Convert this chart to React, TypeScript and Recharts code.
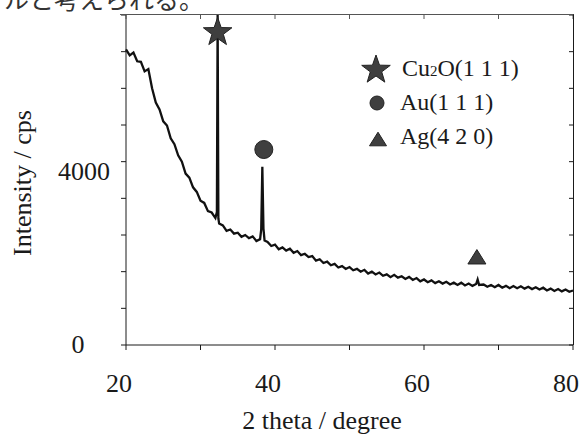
import { ComposedChart, Line, Scatter, XAxis, YAxis } from "recharts"

const theta = [
  20, 20.5, 21, 21.5, 22, 22.5, 23, 23.5, 24, 24.5, 25, 25.5, 26, 26.5, 27, 27.5, 28, 28.5, 29, 29.5,
  30, 30.5, 31, 31.5, 32, 32.2, 32.3, 32.4, 32.5, 33, 33.5, 34, 34.5, 35, 35.5, 36, 36.5, 37, 37.5,
  38, 38.15, 38.3, 38.45, 38.6, 39, 39.5, 40, 40.5, 41, 41.5, 42, 42.5, 43, 43.5, 44, 44.5, 45, 45.5,
  46, 46.5, 47, 47.5, 48, 48.5, 49, 49.5, 50, 50.5, 51, 51.5, 52, 52.5, 53, 53.5, 54, 54.5, 55, 55.5,
  56, 56.5, 57, 57.5, 58, 58.5, 59, 59.5, 60, 60.5, 61, 61.5, 62, 62.5, 63, 63.5, 64, 64.5, 65, 65.5,
  66, 66.5, 67, 67.2, 67.4, 68, 68.5, 69, 69.5, 70, 70.5, 71, 71.5, 72, 72.5, 73, 73.5, 74, 74.5, 75,
  75.5, 76, 76.5, 77, 77.5, 78, 78.5, 79, 79.5, 80,
]
const intensity = [
  6450, 6320, 6380, 6190, 6180, 5970, 6020, 5600, 5290, 5140, 4880, 4790, 4510, 4380, 4140, 4000, 3740, 3650, 3440, 3340,
  3150, 3100, 2920, 2890, 2770, 2900, 7200, 2760, 2650, 2610, 2490, 2520, 2430, 2450, 2360, 2400, 2330, 2370, 2270,
  2310, 2520, 3890, 2540, 2280, 2250, 2160, 2190, 2090, 2130, 2060, 2100, 2010, 2050, 1960, 1990, 1920, 1940, 1840,
  1870, 1790, 1820, 1740, 1770, 1690, 1720, 1660, 1700, 1630, 1660, 1600, 1640, 1560, 1600, 1540, 1580, 1510, 1540, 1480,
  1530, 1470, 1500, 1440, 1485, 1420, 1460, 1390, 1430, 1370, 1410, 1350, 1390, 1340, 1380, 1320, 1360, 1310, 1360, 1300,
  1340, 1290, 1330, 1430, 1310, 1320, 1270, 1310, 1260, 1310, 1250, 1290, 1240, 1285, 1240, 1280, 1230, 1270, 1220, 1260,
  1210, 1250, 1190, 1230, 1180, 1220, 1170, 1210, 1160, 1190,
]

// peak markers
const markerNames = ["Cu\u2082O(1 1 1)", "Au(1 1 1)", "Ag(4 2 0)"]
const markerTheta = [32.3, 38.5, 67.1]
const markerIntensity = [6820, 4265, 1925]

const xTicks = [20, 30, 40, 50, 60, 70, 80]
const xLabels = [20, 40, 60, 80]
const yTicks = [0, 800, 1600, 2400, 3200, 4000, 4800, 5600, 6400, 7200]
const yLabels = [0, 4000]

const scan = theta.map((t, i) => ({ theta: t, intensity: intensity[i] }))

const W = 583
const H = 434
const M = { top: 15, right: 10, left: 0, bottom: 0 }
const Y_AXIS_W = 126
const X_AXIS_H = 89
// plot edges follow from the chart size, margins and axis sizes
const plotLeft = M.left + Y_AXIS_W
const plotRight = W - M.right
const plotTop = M.top
const plotBottom = H - M.bottom - X_AXIS_H

const serif = '"Liberation Serif", "Times New Roman", serif'
const ink = "#1a1a1a"
const markFill = "#3f3f3f"

const starPath = (cx: number, cy: number, R: number) => {
  const r = R * 0.4
  let d = ""
  for (let i = 0; i < 10; i++) {
    const rad = i % 2 === 0 ? R : r
    const a = -Math.PI / 2 + (i * Math.PI) / 5
    d += (i === 0 ? "M" : "L") + (cx + rad * Math.cos(a)).toFixed(2) + "," + (cy + rad * Math.sin(a)).toFixed(2)
  }
  return d + "Z"
}

const Star = ({ cx, cy, R = 15 }: any) => <path d={starPath(cx, cy, R)} fill={markFill} stroke="#222" strokeWidth={1} />
const Dot = ({ cx, cy, r = 9 }: any) => <circle cx={cx} cy={cy} r={r} fill={markFill} stroke="#222" strokeWidth={1} />
const Tri = ({ cx, cy, w = 18 }: any) => {
  const h = w * 0.8
  return (
    <path
      d={`M${cx},${cy - h / 2}L${cx + w / 2},${cy + h / 2}L${cx - w / 2},${cy + h / 2}Z`}
      fill={markFill}
      stroke="#222"
      strokeWidth={1}
    />
  )
}

// bottom ticks: label + matching inward tick on the top frame
const XTick = ({ x, payload }: any) => (
  <g>
    <line x1={x} x2={x} y1={plotTop} y2={plotTop + 4} stroke="#555" strokeWidth={1} />
    {xLabels.includes(payload.value) && (
      <text x={x - 7} y={392} textAnchor="middle" style={{ fontFamily: serif, fontSize: 26 }} fill={ink}>
        {payload.value}
      </text>
    )}
  </g>
)

// left ticks: label + matching inward tick on the right frame
const YTick = ({ y, payload }: any) => {
  const zero = payload.value === 0
  return (
    <g>
      <line x1={plotRight - 4} x2={plotRight} y1={y} y2={y} stroke={ink} strokeWidth={1} />
      {yLabels.includes(payload.value) && (
        <text
          x={zero ? 78 : 110}
          y={zero ? y + 8 : y + 18}
          textAnchor={zero ? "middle" : "end"}
          style={{ fontFamily: serif, fontSize: 26 }}
          fill={ink}
        >
          {payload.value}
        </text>
      )}
    </g>
  )
}

export default function App() {
  return (
    <div style={{ position: "absolute", left: 0, top: 0, width: W, height: H, background: "#fff", overflow: "hidden" }}>
      <ComposedChart width={W} height={H} data={scan} margin={M}>
        <XAxis
          type="number"
          dataKey="theta"
          domain={[20, 80]}
          ticks={xTicks}
          height={X_AXIS_H}
          stroke={ink}
          tickSize={5}
          tick={<XTick />}
        />
        <YAxis
          type="number"
          domain={[0, 7200]}
          ticks={yTicks}
          allowDataOverflow
          width={Y_AXIS_W}
          stroke={ink}
          tickSize={5}
          tick={<YTick />}
        />
        <Line
          type="linear"
          dataKey="intensity"
          stroke="#111"
          strokeWidth={2.3}
          dot={false}
          isAnimationActive={false}
        />
        <Scatter
          data={[{ theta: markerTheta[0], intensity: markerIntensity[0] }]}
          dataKey="intensity"
          shape={(p: any) => <Star cx={p.cx} cy={p.cy} R={15} />}
          isAnimationActive={false}
        />
        <Scatter
          data={[{ theta: markerTheta[1], intensity: markerIntensity[1] }]}
          dataKey="intensity"
          shape={(p: any) => <Dot cx={p.cx} cy={p.cy} r={9} />}
          isAnimationActive={false}
        />
        <Scatter
          data={[{ theta: markerTheta[2], intensity: markerIntensity[2] }]}
          dataKey="intensity"
          shape={(p: any) => <Tri cx={p.cx} cy={p.cy} w={18} />}
          isAnimationActive={false}
        />
      </ComposedChart>

      <svg width={W} height={H} style={{ position: "absolute", left: 0, top: 0, pointerEvents: "none" }}>
        <text x={4} y={9} fontFamily='"Noto Sans CJK JP"' fontSize={25} fill="#333">
          ルと考えられる。
        </text>

        {/* legend */}
        <Star cx={376} cy={70} R={15} />
        <text x={402} y={76} style={{ fontFamily: serif, fontSize: 24 }} fill={ink}>
          Cu<tspan fontSize={15}>2</tspan>O(1 1 1)
        </text>
        <Dot cx={377} cy={103} r={7} />
        <text x={400} y={110} style={{ fontFamily: serif, fontSize: 24 }} fill={ink}>
          {markerNames[1]}
        </text>
        <Tri cx={378} cy={139} w={17} />
        <text x={400} y={144} style={{ fontFamily: serif, fontSize: 24 }} fill={ink}>
          {markerNames[2]}
        </text>

        <text x={322} y={429} textAnchor="middle" style={{ fontFamily: serif, fontSize: 26 }} fill={ink}>
          2 theta / degree
        </text>
        <text
          x={31}
          y={183}
          textAnchor="middle"
          transform="rotate(-90 31 183)"
          style={{ fontFamily: serif, fontSize: 26 }}
          fill={ink}
        >
          Intensity / cps
        </text>
      </svg>

      {/* plot frame: top and right edges */}
      <div
        style={{
          position: "absolute",
          left: plotLeft - 6,
          top: plotTop - 1,
          width: plotRight - plotLeft + 6 + 1,
          height: plotBottom - plotTop + 1,
          boxSizing: "border-box",
          borderTop: "1.5px solid #555",
          borderRight: "1.5px solid " + ink,
          pointerEvents: "none",
        }}
      />
    </div>
  )
}
